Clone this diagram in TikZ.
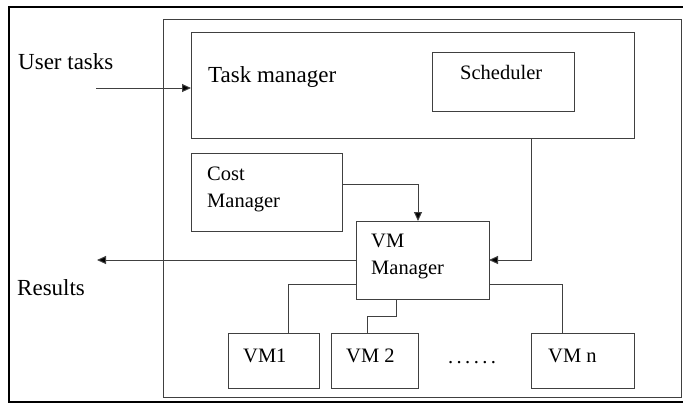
\documentclass[tikz,border=0pt]{standalone}
\usepackage{fontspec}
\setmainfont{Liberation Serif}
\usetikzlibrary{arrows.meta, positioning, calc}
\definecolor{linegray}{RGB}{64,64,64}

\begin{document}
\begin{tikzpicture}[x=1pt, y=-1pt,
    box/.style={draw=linegray, line width=1pt, inner sep=0pt, outer sep=0pt},
    bigtxt/.style={font=\fontsize{23}{27}\selectfont, inner sep=0pt, anchor=base west},
    smalltxt/.style={font=\fontsize{20.5}{27}\selectfont, inner sep=0pt, anchor=base west, align=left},
    link/.style={draw=linegray, line width=1pt},
    arr/.style={link, -{Triangle[length=9pt, width=8pt, fill=black]}}]
  \useasboundingbox (0,0) rectangle (683,405);
  % Outer frame (its right side runs off the page)
  \draw[line width=2pt] (683,7) -- (8.5,7) -- (8.5,402) -- (683,402);
  % System boundary
  \node[box, minimum width=518pt, minimum height=378pt] (sys) at (422,208) {};
  % Task manager with scheduler
  \node[box, minimum width=443pt, minimum height=106pt] (tm) at (412.5,85) {};
  \node[bigtxt] (tmtxt) at (208,82) {Task manager};
  \node[box, minimum width=142pt, minimum height=59pt] (sch) at (503,81.5) {};
  \node[smalltxt] (schtxt) at (460,79) {Scheduler};
  % Cost manager
  \node[box, minimum width=151pt, minimum height=78pt] (cost) at (266.5,192) {};
  \node[smalltxt] (costtxt) at (207,207) {Cost\\Manager};
  % VM manager
  \node[box, minimum width=133pt, minimum height=78pt] (vmm) at (422.5,260) {};
  \node[smalltxt] (vmmtxt) at (371,274) {VM\\Manager};
  % Virtual machines
  \node[box, minimum width=91pt, minimum height=55pt] (vm1) at (273.5,360.5) {};
  \node[smalltxt] (vm1txt) at (243,362) {VM1};
  \node[box, minimum width=87pt, minimum height=55pt] (vm2) at (374.5,360.5) {};
  \node[smalltxt] (vm2txt) at (346,362) {VM 2};
  \node[smalltxt] (dots) at (448,363) {.\kern3.4pt.\kern3.4pt.\kern3.4pt.\kern3.4pt.\kern3.4pt.};
  \node[box, minimum width=103pt, minimum height=55pt] (vmn) at (582.5,360.5) {};
  \node[smalltxt] (vmntxt) at (548,362) {VM n};
  % Outside labels
  \node[bigtxt] (user) at (18,69) {User tasks};
  \node[bigtxt] (res) at (17,295) {Results};
  \coordinate (in) at (96,88);
  \coordinate (out) at (97,260);
  % Arrows
  \draw[arr] (in) -- (in -| tm.west);
  \draw[arr] (vmm.west) -- (out);
  \draw[arr] ([xshift=118.5pt]tm.south) |- (vmm.east);
  \draw[arr] ([yshift=8pt]cost.east) -| ([xshift=-4.5pt]vmm.north);
  % Links to the VMs
  \draw[link] ([yshift=-24pt]vmm.west) -| ([xshift=14.5pt]vm1.north);
  \draw[link] ([xshift=-26.5pt]vmm.south) -- ++(0,17) -| ([xshift=-7.5pt]vm2.north);
  \draw[link] ([yshift=-24pt]vmm.east) -| ([xshift=-20.5pt]vmn.north);
\end{tikzpicture}
\end{document}
